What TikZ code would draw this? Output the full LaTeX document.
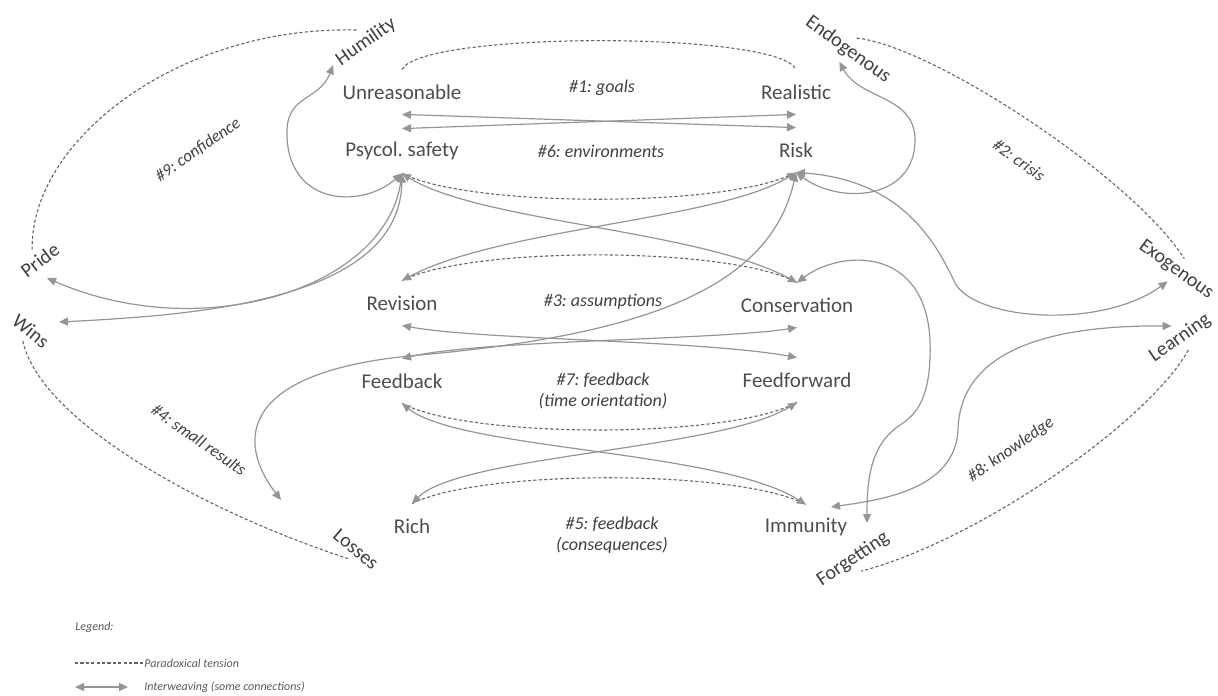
\documentclass[tikz,border=0pt]{standalone}
\usepackage{fontspec}
\setmainfont{Carlito}
\usetikzlibrary{arrows.meta}
\definecolor{linegrey}{HTML}{959595}
\definecolor{dashgrey}{HTML}{666666}
\definecolor{textgrey}{HTML}{4D4D4D}
\frenchspacing

\begin{document}
\begin{tikzpicture}[x=0.5pt,y=-0.5pt,
    polelabel/.style={text=textgrey,font=\fontsize{10.5}{12}\selectfont,minimum height=22pt,inner xsep=0pt},
    sidelabel/.style={text=black!75,font=\fontsize{10}{12}\selectfont,inner sep=1pt,outer sep=2pt},
    themelabel/.style={text=black!75,font=\fontsize{9}{10.5}\selectfont\itshape,align=center,inner sep=1pt},
    slantlabel/.style={themelabel,font=\fontsize{8.5}{10}\selectfont\itshape},
    keylabel/.style={text=black!65,font=\fontsize{6}{7}\selectfont\itshape,anchor=west,inner sep=0pt},
    paradox/.style={dashgrey,line width=0.55pt,dash pattern=on 1.6pt off 1.1pt},
    interweave/.style={linegrey,line width=0.6pt,{Triangle[length=4.5pt,width=4pt]}-{Triangle[length=4.5pt,width=4pt]}}]
\useasboundingbox (0,0) rectangle (1218,695);
\node[polelabel] (unr) at (402,92) {Unreasonable};
\node[polelabel] (real) at (796,92) {Realistic};
\node[polelabel] (psy) at (402,151) {Psycol. safety};
\node[polelabel] (risk) at (796,150) {Risk};
\node[polelabel] (rev) at (402,303) {Revision};
\node[polelabel] (cons) at (797,305) {Conservation};
\node[polelabel] (fb) at (402,381) {Feedback};
\node[polelabel] (ff) at (797,380) {Feedforward};
\node[polelabel] (rich) at (412,526) {Rich};
\node[polelabel] (imm) at (806,527) {Immunity};
\node[themelabel] (goals) at (602,88) {\#1: goals};
\node[themelabel] (envir) at (601,151) {\#6: environments};
\node[themelabel] (assum) at (603,302) {\#3: assumptions};
\node[themelabel] (timeor) at (603,391) {\#7: feedback\\(time orientation)};
\node[themelabel] (conseq) at (612,535) {\#5: feedback\\(consequences)};
\node[sidelabel,rotate=35] (hum) at (366,42) {Humility};
\node[sidelabel,rotate=-36] (endo) at (848,50) {Endogenous};
\node[sidelabel,rotate=-36] (exo) at (1176,270) {Exogenous};
\node[sidelabel,rotate=35] (learn) at (1180,338) {Learning};
\node[sidelabel,rotate=34] (forg) at (853,559) {Forgetting};
\node[sidelabel,rotate=-40] (loss) at (356,549) {Losses};
\node[sidelabel,rotate=-39] (wins) at (31,331) {Wins};
\node[sidelabel,rotate=37] (pride) at (40,260) {Pride};
\node[slantlabel,rotate=35] (confid) at (198,150) {\#9: confidence};
\node[slantlabel,rotate=-36] (crisis) at (1019,160) {\#2: crisis};
\node[slantlabel,rotate=-35] (smallres) at (199,440) {\#4: small results};
\node[slantlabel,rotate=35] (knowl) at (1011,450) {\#8: knowledge};
\draw[paradox] (unr.north) .. controls (420,31) and (780,31) .. (real.north);
\draw[paradox] (psy.south) .. controls (470,208) and (730,208) .. (risk.south);
\draw[paradox] (rev.north) .. controls (470,246) and (730,246) .. (cons.north);
\draw[paradox] (fb.south) .. controls (470,439) and (730,439) .. (ff.south);
\draw[paradox] (rich.north) .. controls (480,469) and (740,469) .. (imm.north);
\draw[paradox] (pride.north) .. controls (30,140) and (180,25) .. (hum.north);
\draw[paradox] (endo.north) .. controls (930,45) and (1130,175) .. (exo.north);
\draw[paradox] (wins.south) .. controls (40,420) and (200,510) .. (loss.south);
\draw[paradox] (learn.south) .. controls (1150,420) and (980,540) .. (forg.south);
\draw[interweave] (unr.south) -- (risk.north);
\draw[interweave] (psy.north) -- (real.south);
\draw[interweave] (psy.south) .. controls (480,222) and (700,230) .. (cons.north);
\draw[interweave] (risk.south) .. controls (720,220) and (500,228) .. (rev.north);
\draw[interweave] (rev.south) .. controls (480,340) and (700,340) .. (ff.north);
\draw[interweave] (cons.south) .. controls (720,340) and (480,340) .. (fb.north);
\draw[interweave] (fb.south) .. controls (460,450) and (720,450) .. (imm.north);
\draw[interweave] (rich.north) .. controls (460,455) and (720,450) .. (ff.south);
\draw[interweave] (psy.south) .. controls (385,290) and (200,345) .. ([shift={(7,18)}]pride.center);
\draw[interweave] (psy.south) .. controls (400,300) and (200,315) .. ([shift={(28,-9)}]wins.center);
\draw[interweave] (psy.south) .. controls (360,210) and (285,205) .. (287,130) .. controls (288,95) and (320,100) .. (hum.west);
\draw[interweave] (risk.south) .. controls (840,205) and (915,200) .. (915,140) .. controls (915,95) and (860,100) .. (endo.south);
\draw[interweave] (risk.south) .. controls (900,180) and (935,240) .. (955,283) .. controls (975,320) and (1100,330) .. (exo.south);
\draw[interweave] (risk.south) .. controls (770,290) and (640,335) .. (420,355) .. controls (240,370) and (235,440) .. ([shift={(-75,-49)}]loss.center);
\draw[interweave] (cons.north) .. controls (840,250) and (925,245) .. (930,340) .. controls (932,400) and (915,415) .. (900,425) .. controls (870,445) and (867,480) .. ([shift={(14,-36)}]forg.center);
\draw[interweave] (learn.north) .. controls (1050,325) and (960,350) .. (958,430) .. controls (955,490) and (880,500) .. ([shift={(25,-20)}]imm.center);
\node[keylabel] (legtitle) at (75,627) {Legend:};
\coordinate (legdash) at (75,663);
\node[keylabel] (legtension) at (144,663) {Paradoxical tension};
\draw[paradox] (legdash) -- (legtension.west);
\coordinate (legarrow) at (75,687);
\node[keylabel] (legweave) at (144,687) {Interweaving (some connections)};
\draw[interweave] (legarrow) -- ([xshift=-8pt]legweave.west);
\end{tikzpicture}
\end{document}
